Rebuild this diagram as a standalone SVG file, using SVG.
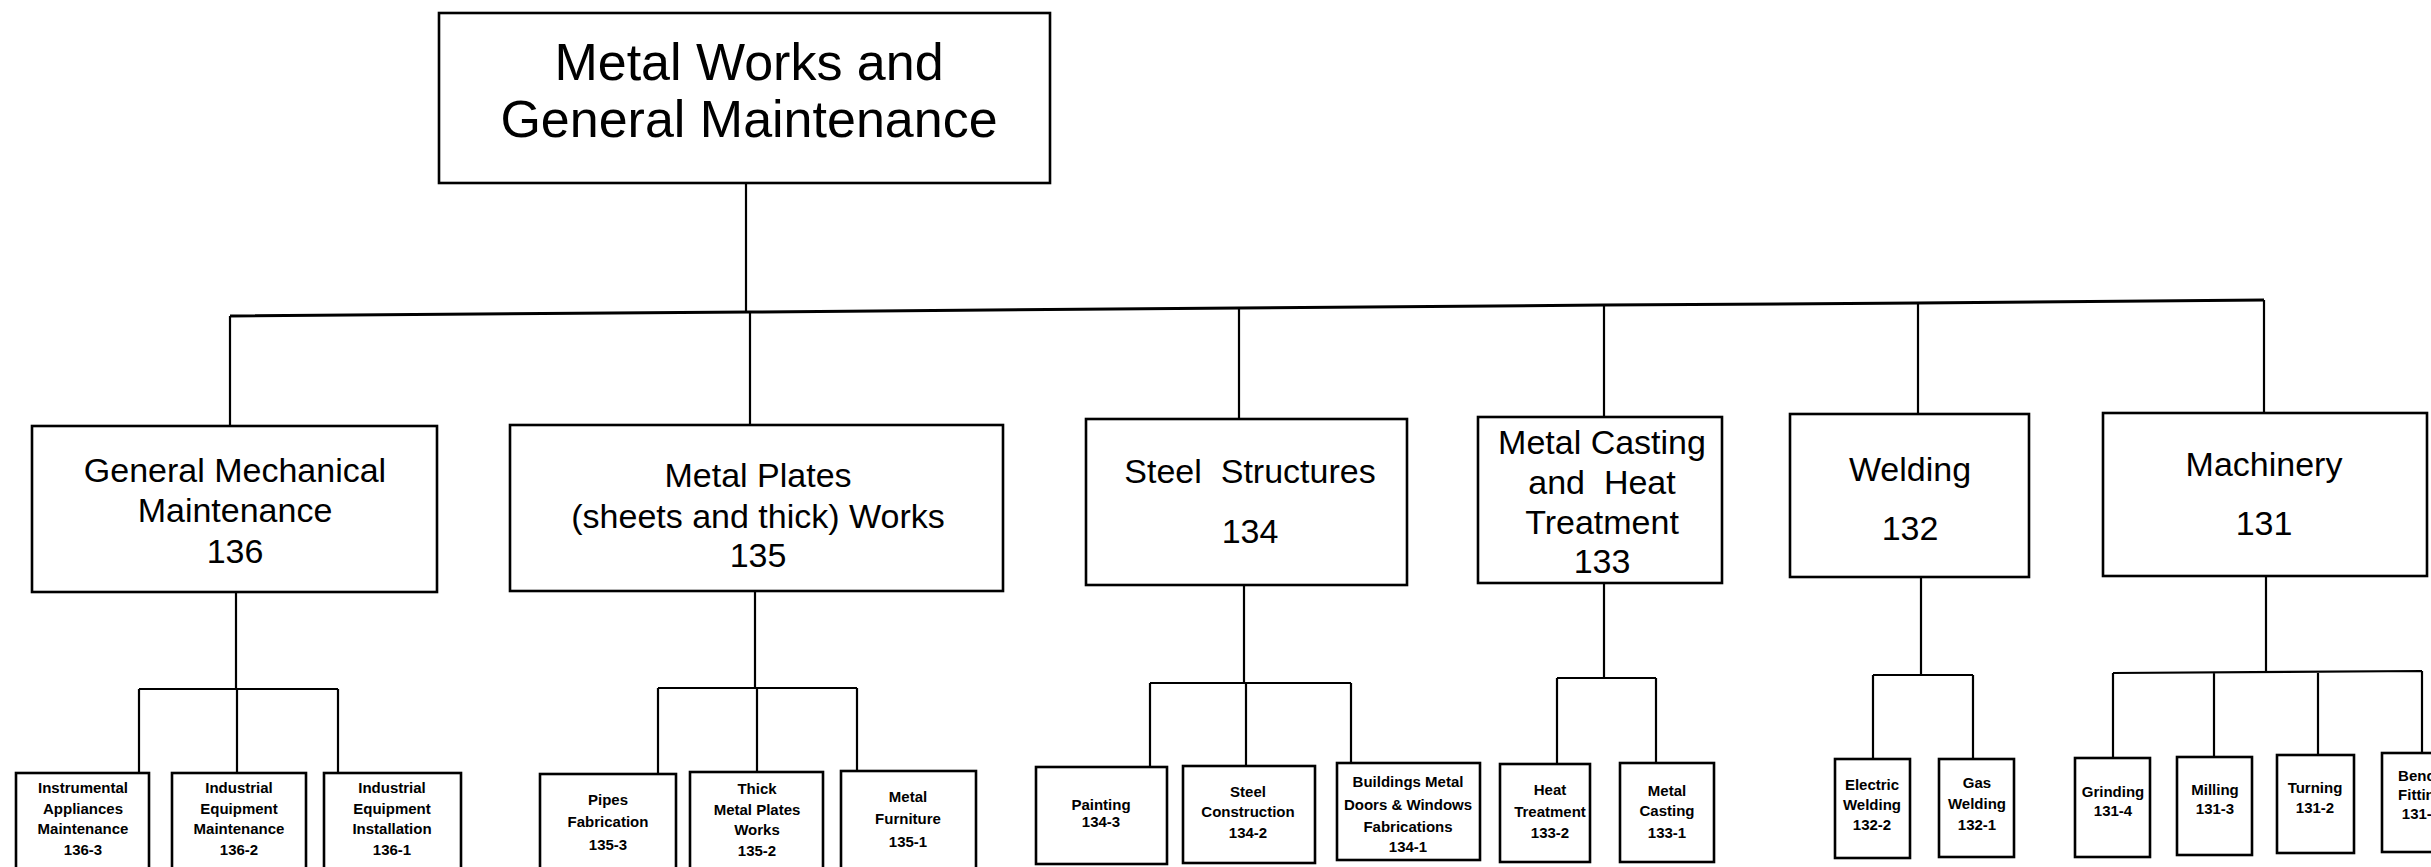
<svg xmlns="http://www.w3.org/2000/svg" width="2431" height="867" viewBox="0 0 2431 867">
<style>
.box{fill:#fff;stroke:#000;stroke-width:2.6}
.ln{fill:none;stroke:#000;stroke-width:2.2}
text{font-family:"Liberation Sans",Arial,Helvetica,sans-serif;fill:#000;text-anchor:middle}
.t0{font-size:52px}
.t1{font-size:34px}
.t2{font-size:15px;font-weight:bold}
</style>
<rect width="2431" height="867" fill="#fff"/>
<g id="connectors">
<path class="ln" d="M746,183 V312"/>
<polyline class="ln" style="stroke-width:3" points="230,316 750,312 1239,308 1604,305 1918,303 2264,300"/>
<path class="ln" d="M230,316 V426 M750,312 V425 M1239,308 V419 M1604,305 V417 M1918,303 V414 M2264,300 V413"/>
<path class="ln" d="M236,592 V689 M139,689 H338 M139,689 V773 M237,689 V773 M338,689 V773"/>
<path class="ln" d="M755,591 V688 M658,688 H857 M658,688 V774 M757,688 V772 M857,688 V771"/>
<path class="ln" d="M1244,585 V683 M1150,683 H1351 M1150,683 V767 M1246,683 V766 M1351,683 V763"/>
<path class="ln" d="M1604,583 V678 M1557,678 H1656 M1557,678 V764 M1656,678 V763"/>
<path class="ln" d="M1921,577 V675 M1873,675 H1973 M1873,675 V759 M1973,675 V759"/>
<path class="ln" d="M2266,576 V672 M2113,673 L2422,671 M2113,673 V758 M2214,672 V757 M2318,672 V755 M2422,671 V753"/>
</g>
<g id="root">
<rect class="box" x="439" y="13" width="611" height="170"/>
<text class="t0" x="749" y="80">Metal Works and</text>
<text class="t0" x="749" y="137">General Maintenance</text>
</g>
<g id="n136">
<rect class="box" x="32" y="426" width="405" height="166"/>
<text class="t1" x="235" y="482">General Mechanical</text>
<text class="t1" x="235" y="522">Maintenance</text>
<text class="t1" x="235" y="563">136</text>
</g>
<g id="n135">
<rect class="box" x="510" y="425" width="493" height="166"/>
<text class="t1" x="758" y="487">Metal Plates</text>
<text class="t1" x="758" y="528">(sheets and thick) Works</text>
<text class="t1" x="758" y="567">135</text>
</g>
<g id="n134">
<rect class="box" x="1086" y="419" width="321" height="166"/>
<text class="t1" x="1250" y="483">Steel&#160; Structures</text>
<text class="t1" x="1250" y="543">134</text>
</g>
<g id="n133">
<rect class="box" x="1478" y="417" width="244" height="166"/>
<text class="t1" x="1602" y="454">Metal Casting</text>
<text class="t1" x="1602" y="494">and&#160; Heat</text>
<text class="t1" x="1602" y="534">Treatment</text>
<text class="t1" x="1602" y="573">133</text>
</g>
<g id="n132">
<rect class="box" x="1790" y="414" width="239" height="163"/>
<text class="t1" x="1910" y="481">Welding</text>
<text class="t1" x="1910" y="540">132</text>
</g>
<g id="n131">
<rect class="box" x="2103" y="413" width="324" height="163"/>
<text class="t1" x="2264" y="476">Machinery</text>
<text class="t1" x="2264" y="535">131</text>
</g>
<g id="n136-3">
<rect class="box" x="16" y="773" width="133" height="110"/>
<text class="t2" x="83" y="793">Instrumental</text>
<text class="t2" x="83" y="814">Appliances</text>
<text class="t2" x="83" y="834">Maintenance</text>
<text class="t2" x="83" y="855">136-3</text>
</g>
<g id="n136-2">
<rect class="box" x="172" y="773" width="134" height="110"/>
<text class="t2" x="239" y="793">Industrial</text>
<text class="t2" x="239" y="814">Equipment</text>
<text class="t2" x="239" y="834">Maintenance</text>
<text class="t2" x="239" y="855">136-2</text>
</g>
<g id="n136-1">
<rect class="box" x="324" y="773" width="137" height="110"/>
<text class="t2" x="392" y="793">Industrial</text>
<text class="t2" x="392" y="814">Equipment</text>
<text class="t2" x="392" y="834">Installation</text>
<text class="t2" x="392" y="855">136-1</text>
</g>
<g id="n135-3">
<rect class="box" x="540" y="774" width="136" height="110"/>
<text class="t2" x="608" y="805">Pipes</text>
<text class="t2" x="608" y="827">Fabrication</text>
<text class="t2" x="608" y="850">135-3</text>
</g>
<g id="n135-2">
<rect class="box" x="690" y="772" width="133" height="110"/>
<text class="t2" x="757" y="794">Thick</text>
<text class="t2" x="757" y="815">Metal Plates</text>
<text class="t2" x="757" y="835">Works</text>
<text class="t2" x="757" y="856">135-2</text>
</g>
<g id="n135-1">
<rect class="box" x="841" y="771" width="135" height="110"/>
<text class="t2" x="908" y="802">Metal</text>
<text class="t2" x="908" y="824">Furniture</text>
<text class="t2" x="908" y="847">135-1</text>
</g>
<g id="n134-3">
<rect class="box" x="1036" y="767" width="131" height="97"/>
<text class="t2" x="1101" y="810">Painting</text>
<text class="t2" x="1101" y="827">134-3</text>
</g>
<g id="n134-2">
<rect class="box" x="1183" y="766" width="132" height="97"/>
<text class="t2" x="1248" y="797">Steel</text>
<text class="t2" x="1248" y="817">Construction</text>
<text class="t2" x="1248" y="838">134-2</text>
</g>
<g id="n134-1">
<rect class="box" x="1337" y="763" width="143" height="97"/>
<text class="t2" x="1408" y="787">Buildings Metal</text>
<text class="t2" x="1408" y="810">Doors &amp; Windows</text>
<text class="t2" x="1408" y="832">Fabrications</text>
<text class="t2" x="1408" y="852">134-1</text>
</g>
<g id="n133-2">
<rect class="box" x="1500" y="764" width="90" height="98"/>
<text class="t2" x="1550" y="795">Heat</text>
<text class="t2" x="1550" y="817">Treatment</text>
<text class="t2" x="1550" y="838">133-2</text>
</g>
<g id="n133-1">
<rect class="box" x="1620" y="763" width="94" height="99"/>
<text class="t2" x="1667" y="796">Metal</text>
<text class="t2" x="1667" y="816">Casting</text>
<text class="t2" x="1667" y="838">133-1</text>
</g>
<g id="n132-2">
<rect class="box" x="1835" y="759" width="75" height="99"/>
<text class="t2" x="1872" y="790">Electric</text>
<text class="t2" x="1872" y="810">Welding</text>
<text class="t2" x="1872" y="830">132-2</text>
</g>
<g id="n132-1">
<rect class="box" x="1939" y="759" width="75" height="98"/>
<text class="t2" x="1977" y="788">Gas</text>
<text class="t2" x="1977" y="809">Welding</text>
<text class="t2" x="1977" y="830">132-1</text>
</g>
<g id="n131-4">
<rect class="box" x="2075" y="758" width="75" height="99"/>
<text class="t2" x="2113" y="797">Grinding</text>
<text class="t2" x="2113" y="816">131-4</text>
</g>
<g id="n131-3">
<rect class="box" x="2177" y="757" width="75" height="98"/>
<text class="t2" x="2215" y="795">Milling</text>
<text class="t2" x="2215" y="814">131-3</text>
</g>
<g id="n131-2">
<rect class="box" x="2277" y="755" width="77" height="98"/>
<text class="t2" x="2315" y="793">Turning</text>
<text class="t2" x="2315" y="813">131-2</text>
</g>
<g id="n131-1">
<rect class="box" x="2382" y="753" width="78" height="99"/>
<text class="t2" x="2421" y="781">Bench</text>
<text class="t2" x="2421" y="800">Fitting</text>
<text class="t2" x="2421" y="819">131-1</text>
</g>
</svg>
